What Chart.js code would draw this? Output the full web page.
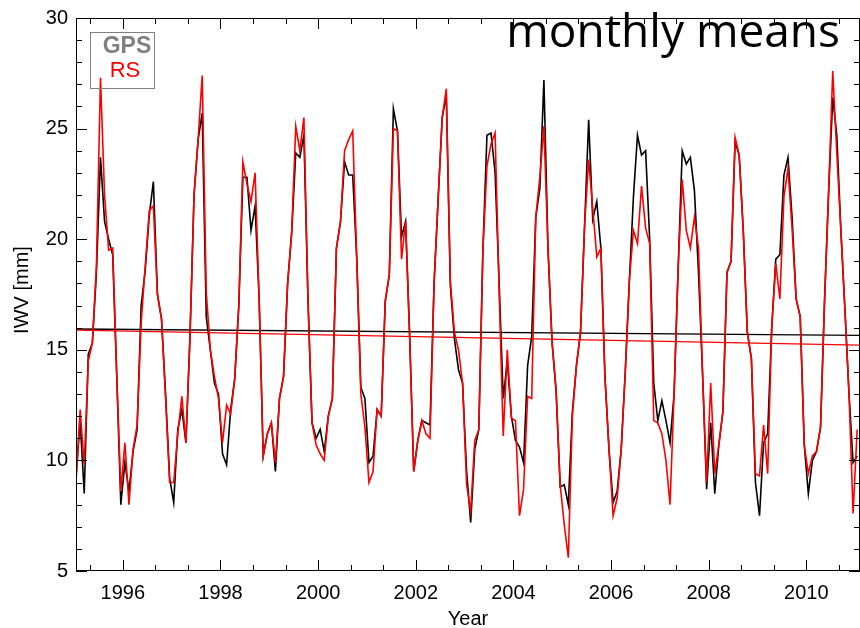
<!DOCTYPE html>
<html>
<head>
<meta charset="utf-8">
<script src="https://cdn.jsdelivr.net/npm/chart.js@4.4.1/dist/chart.umd.min.js"></script>
<style>
  html, body { margin: 0; padding: 0; background: #fff; }
  canvas { display: block; }
</style>
</head>
<body>
<canvas id="iwvChart" width="860" height="628"></canvas>
<script>
// monthly means, Jan 1995 .. Jan 2011
const startYear = 1995;
const yearTicks = [1996, 1998, 2000, 2002, 2004, 2006, 2008, 2010];
const valueTicks = [5, 10, 15, 20, 25, 30];

const gpsMonthly = [
  9.3, 11.8, 8.5, 14.8, 15.3, 18.5, 23.7, 20.8, 20.0, 19.3, 13.8, 8.0,     // 1995
  9.9, 8.6, 10.4, 11.4, 17.0, 18.6, 21.1, 22.6, 17.5, 16.4, 13.0, 9.2,     // 1996
  8.1, 11.4, 12.3, 10.8, 15.6, 22.0, 24.5, 25.7, 16.5, 15.0, 13.5, 13.0,   // 1997
  10.3, 9.8, 12.3, 13.7, 17.0, 22.8, 22.8, 20.4, 21.5, 17.3, 10.2, 11.2,   // 1998
  11.7, 9.5, 12.8, 13.8, 18.0, 20.3, 23.9, 23.7, 24.7, 17.3, 11.7, 11.0,   // 1999
  11.4, 10.4, 12.0, 12.8, 19.6, 20.8, 23.5, 22.9, 22.9, 19.1, 13.3, 12.8,  // 2000
  9.9, 10.2, 12.3, 12.0, 17.2, 18.4, 25.9, 24.9, 20.1, 20.8, 15.6, 9.5,    // 2001
  10.9, 11.8, 11.7, 11.6, 18.0, 21.8, 25.5, 26.5, 17.9, 15.5, 14.1, 13.5,  // 2002
  9.5, 7.2, 10.5, 11.4, 19.5, 24.7, 24.8, 23.0, 18.0, 12.8, 14.5, 12.0,    // 2003
  10.9, 10.6, 9.9, 14.3, 15.6, 21.0, 22.3, 27.2, 19.6, 15.4, 13.1, 8.8,    // 2004
  8.9, 8.0, 12.2, 14.3, 15.8, 20.6, 25.4, 20.9, 21.7, 19.6, 13.8, 10.5,    // 2005
  8.1, 8.6, 10.5, 14.0, 18.1, 21.9, 24.7, 23.8, 24.0, 20.0, 13.5, 11.8,    // 2006
  12.7, 11.8, 10.8, 13.0, 18.7, 24.0, 23.4, 23.7, 22.2, 18.5, 13.9, 8.7,   // 2007
  11.7, 8.5, 10.7, 12.2, 18.5, 19.0, 24.4, 23.8, 20.4, 15.8, 14.6, 9.0,    // 2008
  7.5, 10.8, 11.2, 16.0, 19.1, 19.3, 22.9, 23.7, 21.0, 17.3, 16.5, 10.7,   // 2009
  8.5, 10.0, 10.4, 11.5, 17.3, 22.2, 26.4, 24.7, 20.4, 16.8, 13.0, 9.9,    // 2010
  10.2                                                                     // 2011
];

const rsMonthly = [
  9.1, 12.3, 9.8, 14.5, 15.3, 18.8, 27.3, 22.0, 19.5, 19.6, 13.8, 8.6,     // 1995
  10.8, 8.0, 10.5, 11.6, 16.2, 18.8, 21.3, 21.5, 17.5, 16.4, 12.8, 9.0,    // 1996
  9.0, 11.2, 12.9, 10.8, 15.6, 22.0, 24.5, 27.4, 17.6, 15.0, 13.8, 12.8,   // 1997
  10.8, 12.5, 12.1, 13.7, 17.0, 23.5, 22.5, 21.7, 23.0, 17.3, 10.2, 11.2,  // 1998
  11.7, 9.9, 12.8, 13.8, 18.0, 20.3, 25.1, 24.0, 25.5, 17.3, 11.7, 10.7,   // 1999
  10.3, 10.0, 12.0, 12.8, 19.6, 20.8, 24.0, 24.5, 24.9, 19.1, 13.0, 11.5,  // 2000
  9.0, 9.5, 12.3, 12.0, 17.2, 18.4, 25.0, 24.9, 19.1, 20.8, 15.6, 9.5,     // 2001
  10.9, 11.8, 11.2, 11.0, 18.0, 21.8, 25.5, 26.8, 18.1, 15.8, 15.0, 13.5,  // 2002
  8.9, 7.7, 10.9, 11.4, 19.5, 23.3, 24.3, 24.8, 17.6, 11.1, 15.0, 11.9,    // 2003
  11.8, 7.5, 8.7, 12.9, 12.8, 21.0, 22.8, 25.1, 19.6, 15.3, 13.2, 8.9,     // 2004
  7.1, 5.6, 12.0, 14.3, 15.8, 20.6, 23.6, 21.4, 19.2, 19.6, 13.8, 10.5,    // 2005
  7.5, 8.3, 10.5, 14.0, 18.1, 20.4, 19.8, 22.4, 20.5, 19.8, 11.8, 11.7,    // 2006
  11.2, 10.0, 8.0, 13.0, 18.7, 22.7, 20.4, 19.6, 21.0, 19.6, 13.9, 9.0,    // 2007
  13.5, 9.4, 10.7, 12.2, 18.5, 19.0, 24.6, 23.8, 20.4, 15.8, 14.6, 9.4,    // 2008
  9.3, 11.6, 9.4, 16.0, 18.9, 17.3, 21.9, 23.2, 20.5, 17.3, 16.5, 10.7,    // 2009
  9.4, 10.2, 10.4, 11.5, 17.3, 22.2, 27.6, 23.9, 20.4, 16.8, 13.0, 7.6,    // 2010
  11.4                                                                     // 2011
];

// linear trends, value at the left and right ends of the axis
const trendYears = [1995.04, 2011.1];
const gpsTrend = [15.94, 15.65];
const rsTrend = [15.89, 15.21];

// mid-month decimal year for each monthly value
function toPoints(values) {
  return values.map((v, i) => ({ x: startYear + (i + 0.5) / 12, y: v }));
}

function trendPoints(values) {
  return values.map((v, i) => ({ x: trendYears[i], y: v }));
}

// box, inward ticks and the texts drawn over the plot
const framePlugin = {
  id: 'frame',
  afterDraw(chart) {
    const { ctx, chartArea: a, scales: { x, y } } = chart;
    ctx.save();
    ctx.strokeStyle = '#000';
    ctx.lineWidth = 1;
    ctx.strokeRect(a.left + 0.5, a.top + 0.5, a.width - 1, a.height - 1);

    ctx.beginPath();
    // major every 2 years, 3 minor intervals
    for (let k = -3; k <= 24; k++) {
      const v = 1996 + (k * 2) / 3;
      if (v < x.min || v > x.max) continue;
      const px = Math.round(x.getPixelForValue(v)) + 0.5;
      const len = k % 3 === 0 ? 11 : 6;
      ctx.moveTo(px, a.bottom);
      ctx.lineTo(px, a.bottom - len);
      ctx.moveTo(px, a.top);
      ctx.lineTo(px, a.top + len);
    }
    for (let v = 5; v <= 30; v++) {
      const py = Math.round(y.getPixelForValue(v)) + 0.5;
      const len = v % 5 === 0 ? 11 : 6;
      ctx.moveTo(a.left, py);
      ctx.lineTo(a.left + len, py);
      ctx.moveTo(a.right, py);
      ctx.lineTo(a.right - len, py);
    }
    ctx.stroke();

    // legend box
    ctx.strokeStyle = '#808080';
    ctx.strokeRect(90.5, 32.5, 64, 56);
    ctx.textAlign = 'center';
    ctx.textBaseline = 'middle';
    ctx.fillStyle = '#808080';
    ctx.font = 'bold 23px "Liberation Sans", Arial, sans-serif';
    ctx.fillText('GPS', 127, 47);
    ctx.fillStyle = '#ff0000';
    ctx.font = '22px "Liberation Sans", Arial, sans-serif';
    ctx.fillText('RS', 125, 71);

    // title
    ctx.fillStyle = '#000';
    ctx.textAlign = 'right';
    ctx.textBaseline = 'alphabetic';
    ctx.font = '46px "Open Sans", sans-serif';
    ctx.fillText('monthly means', 840, 47);

    // axis titles
    ctx.textAlign = 'center';
    ctx.textBaseline = 'middle';
    ctx.font = '20px "Liberation Sans", Arial, sans-serif';
    ctx.fillText('Year', (a.left + a.right) / 2, 619);
    ctx.translate(22, 290);
    ctx.rotate(-Math.PI / 2);
    ctx.fillText('IWV [mm]', 0, 0);
    ctx.restore();
  },
};

function initChart() {
  const canvas = document.getElementById('iwvChart');
  if (!canvas) return;

  new Chart(canvas, {
    type: 'line',
    data: {
      datasets: [
        {
          label: 'RS',
          data: toPoints(rsMonthly),
          borderColor: '#ff0000',
          borderWidth: 1.6,
        },
        {
          label: 'GPS',
          data: toPoints(gpsMonthly),
          borderColor: '#000000',
          borderWidth: 1.6,
        },
        {
          label: 'RS trend',
          data: trendPoints(rsTrend),
          borderColor: '#ff0000',
          borderWidth: 1.3,
        },
        {
          label: 'GPS trend',
          data: trendPoints(gpsTrend),
          borderColor: '#000000',
          borderWidth: 1.3,
        },
      ],
    },
    options: {
      responsive: false,
      animation: false,
      devicePixelRatio: 1,
      parsing: false,
      elements: {
        point: { radius: 0 },
        line: { tension: 0, fill: false },
      },
      layout: { padding: { top: 10, right: 0, bottom: 0, left: 0 } },
      plugins: {
        legend: { display: false },
        tooltip: { enabled: false },
      },
      scales: {
        x: {
          type: 'linear',
          min: 1995.04,
          max: 2011.1,
          afterBuildTicks: (scale) => {
            scale.ticks = yearTicks.map((v) => ({ value: v }));
          },
          afterFit: (scale) => {
            scale.height = 57;
          },
          grid: { display: false, drawTicks: false },
          border: { display: false },
          ticks: {
            color: '#000',
            padding: 10,
            maxRotation: 0,
            font: { family: '"Liberation Sans", Arial, sans-serif', size: 20 },
            callback: (v) => String(v),
          },
        },
        y: {
          min: 5,
          max: 30,
          afterBuildTicks: (scale) => {
            scale.ticks = valueTicks.map((v) => ({ value: v }));
          },
          afterFit: (scale) => {
            scale.width = 76;
          },
          grid: { display: false, drawTicks: false },
          border: { display: false },
          ticks: {
            color: '#000',
            padding: 8,
            font: { family: '"Liberation Sans", Arial, sans-serif', size: 20, lineHeight: 1 },
          },
        },
      },
    },
    plugins: [framePlugin],
  });
}

initChart();
</script>
</body>
</html>
